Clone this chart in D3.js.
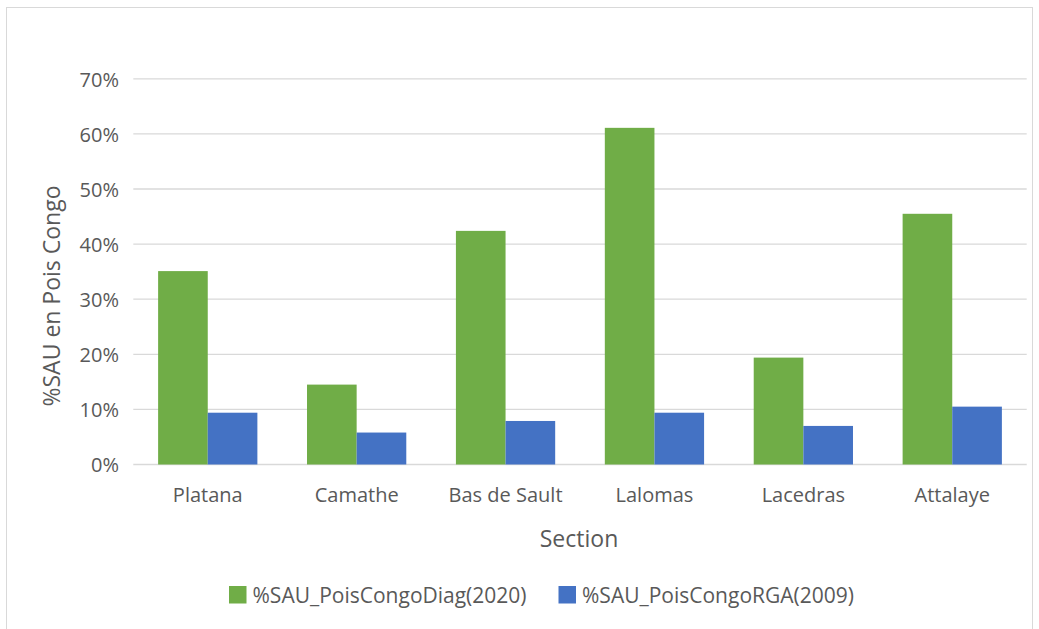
<!DOCTYPE html>
<html><head><meta charset="utf-8">
<script src="https://cdn.jsdelivr.net/npm/d3@7"></script>
<style>
body{margin:0;background:#fff;}
text{font-family:"Open Sans",sans-serif;fill:#595959;}
</style></head>
<body>
<svg id="chart" width="1039" height="629"></svg>
<script>
const categories = ["Platana","Camathe","Bas de Sault","Lalomas","Lacedras","Attalaye"];
const seriesNames = ["%SAU_PoisCongoDiag(2020)","%SAU_PoisCongoRGA(2009)"];
const diag2020 = [0.351,0.145,0.424,0.611,0.194,0.455];
const rga2009 = [0.094,0.058,0.079,0.094,0.070,0.105];
const yTicks = [0,0.1,0.2,0.3,0.4,0.5,0.6,0.7];
const colors = ["#70AD47","#4472C4"];

(function(){
const svg = d3.select("#chart");
svg.append("rect").attr("x",6.5).attr("y",7.5).attr("width",1026).attr("height",640)
  .attr("fill","#fff").attr("stroke","#d9d9d9").attr("stroke-width",1);

const pLeft=133.3, pRight=1026.7, pTop=78.8, pBottom=464.5;
const x = d3.scaleBand().domain(categories).range([pLeft,pRight]).paddingInner(1/3).paddingOuter(1/6);
const x1 = d3.scaleBand().domain([0,1]).range([0,x.bandwidth()]);
const y = d3.scaleLinear().domain([0,0.7]).range([pBottom,pTop]);

// gridlines
svg.append("g").selectAll("line").data(yTicks).join("line")
  .attr("x1",pLeft).attr("x2",pRight)
  .attr("y1",d=>y(d)).attr("y2",d=>y(d))
  .attr("stroke","#d9d9d9").attr("stroke-width",1.3);

// y axis labels
const yAxis = d3.axisLeft(y).tickValues(yTicks).tickFormat(d3.format(".0%")).tickSize(0).tickPadding(0);
const ga = svg.append("g").attr("transform",`translate(119,0)`).call(yAxis);
ga.select(".domain").remove();
ga.selectAll("text").attr("font-size",20).attr("fill","#595959").attr("font-family","Open Sans").attr("dy","0.36em");

// bars
const data = categories.map((c,i)=>({c,vals:[diag2020[i],rga2009[i]]}));
const groups = svg.append("g").selectAll("g").data(data).join("g")
  .attr("transform",d=>`translate(${x(d.c)},0)`);
groups.selectAll("rect").data(d=>d.vals.map((v,k)=>({v,k}))).join("rect")
  .attr("x",d=>x1(d.k)).attr("width",x1.bandwidth())
  .attr("y",d=>y(d.v)).attr("height",d=>y(0)-y(d.v))
  .attr("fill",d=>colors[d.k]);

// x axis labels
const xAxis = d3.axisBottom(x).tickSize(0).tickPadding(0);
const gx = svg.append("g").attr("transform",`translate(0,502)`).call(xAxis);
gx.select(".domain").remove();
gx.selectAll("text").attr("font-size",20).attr("fill","#595959").attr("font-family","Open Sans").attr("dy",0).attr("y",0);

// axis titles
svg.append("text").attr("x",(pLeft+pRight)/2 - 1).attr("y",546.5).attr("text-anchor","middle")
  .attr("font-size",23).text("Section");
svg.append("text").attr("transform","translate(59.5,296) rotate(-90)").attr("text-anchor","middle")
  .attr("font-size",23).text("%SAU en Pois Congo");

// legend
const legX = [229, 558.5];
const leg = svg.append("g").selectAll("g").data(seriesNames).join("g")
  .attr("transform",(d,i)=>`translate(${legX[i]},586)`);
leg.append("rect").attr("width",17.5).attr("height",17.5).attr("fill",(d,i)=>colors[i]);
leg.append("text").attr("x",23.5).attr("y",16.5).attr("font-size",21).text(d=>d);
})();
</script>
</body></html>
